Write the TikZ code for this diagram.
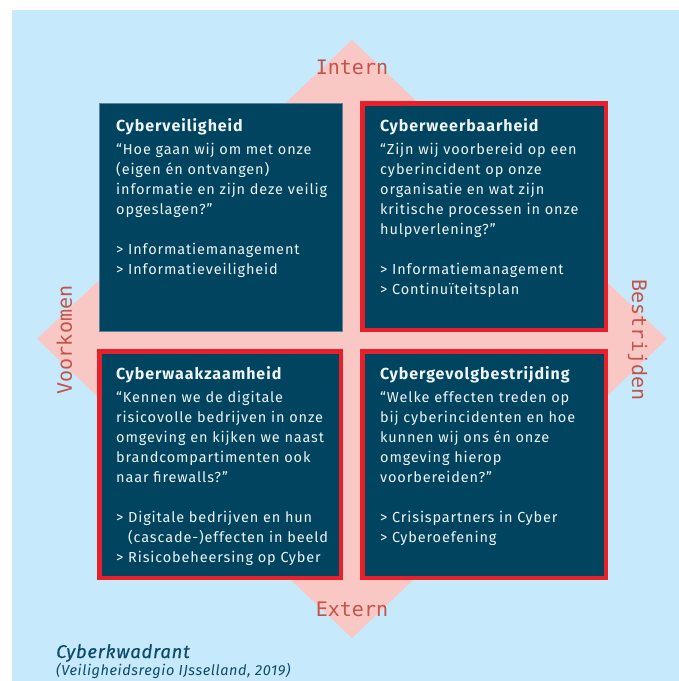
\documentclass[tikz,border=0pt]{standalone}
\usepackage{fontspec}
\setmainfont{Fira Sans}
\newfontfamily\labelfont{DejaVu Sans Mono}
\newfontfamily\bodyfont[LetterSpace=6]{Fira Sans}
\newfontfamily\capfont[LetterSpace=4]{Fira Sans}
\definecolor{bgblue}{HTML}{C6E9FB}
\definecolor{pinkd}{HTML}{F9C8C4}
\definecolor{darkbox}{HTML}{00445F}
\definecolor{redline}{HTML}{E8202A}
\definecolor{labelred}{HTML}{C2544A}
\definecolor{captionblue}{HTML}{0E4A6C}
\definecolor{boxtext}{HTML}{EEF4F7}
\definecolor{thinedge}{HTML}{5C8198}
\tikzset{
  quad/.style={fill=darkbox, inner sep=0pt, outer sep=0pt},
  plainquad/.style={quad, draw=thinedge, line width=0.8pt},
  redquad/.style={quad, draw=redline, line width=4.5pt},
  qtitle/.style={anchor=base west, inner sep=0pt, text=boxtext, font=\bodyfont\fontsize{16}{20}\selectfont\bfseries},
  qbody/.style={anchor=north west, inner sep=0pt, text=boxtext, align=left, font=\bodyfont\fontsize{14.5}{20}\selectfont},
  axislabel/.style={inner sep=0pt, text=labelred, font=\labelfont\fontsize{20}{24}\selectfont},
  captext/.style={anchor=base west, inner sep=0pt, text=captionblue},
}
\newcommand{\fl}{\rule{0pt}{14pt}}
\begin{document}
\begin{tikzpicture}[x=1pt,y=-1pt]
\useasboundingbox (0,0) rectangle (679,681);
\fill[white] (0,0) rectangle (679,681);
\fill[bgblue] (12,10) rectangle (679,681);
\fill[pinkd] (352,40) -- (667,339) -- (352,638) -- (37,339) -- cycle;

% axis labels
\node[axislabel] (intern) at (352,67) {Intern};
\node[axislabel] (extern) at (352,609.5) {Extern};
\node[axislabel, rotate=90] (voorkomen) at (64.5,340) {Voorkomen};
\node[axislabel, rotate=-90, anchor=base] (bestrijden) at (632,340) {Bestrijden};

% quadrants
\node[plainquad, minimum width=243pt, minimum height=228pt] (tl) at (220.5,217) {};
\node[redquad, minimum width=243.5pt, minimum height=226.5pt] (tr) at (484,216.5) {};
\node[redquad, minimum width=241.5pt, minimum height=226.5pt] (bl) at (220,464.5) {};
\node[redquad, minimum width=243.5pt, minimum height=226.5pt] (br) at (484,464.5) {};

% top left
\node[qtitle] (tlt) at (116,131) {Cyberveiligheid};
\node[qbody] (tlb) at (116,140) {\fl“Hoe gaan wij om met onze\\(eigen én ontvangen)\\informatie en zijn deze veilig\\opgeslagen?”\\[20pt]> Informatiemanagement\\> Informatieveiligheid};

% top right
\node[qtitle] (trt) at (380,131) {Cyberweerbaarheid};
\node[qbody] (trb) at (380,140) {\fl“Zijn wij voorbereid op een\\cyberincident op onze\\organisatie en wat zijn\\kritische processen in onze\\hulpverlening?”\\[20pt]> Informatiemanagement\\> Continuïteitsplan};

% bottom left
\node[qtitle] (blt) at (116,379) {Cyberwaakzaamheid};
\node[qbody] (blb) at (116,388) {\fl“Kennen we de digitale\\risicovolle bedrijven in onze\\omgeving en kijken we naast\\brandcompartimenten ook\\naar firewalls?”\\[20pt]> Digitale bedrijven en hun\\\hphantom{> }(cascade-)effecten in beeld\\> Risicobeheersing op Cyber};

% bottom right
\node[qtitle] (brt) at (380,379) {Cybergevolgbestrijding};
\node[qbody] (brb) at (380,388) {\fl“Welke effecten treden op\\bij cyberincidenten en hoe\\kunnen wij ons én onze\\omgeving hierop\\voorbereiden?”\\[20pt]> Crisispartners in Cyber\\> Cyberoefening};

% caption
\node[captext, font=\capfont\fontsize{18.5}{20}\selectfont\itshape\addfontfeature{FakeBold=0.5}] (cap) at (56,658) {Cyberkwadrant};
\node[captext, font=\capfont\fontsize{14.5}{15}\selectfont\itshape] (src) at (56,675.5) {(Veiligheidsregio IJsselland, 2019)};
\end{tikzpicture}
\end{document}
